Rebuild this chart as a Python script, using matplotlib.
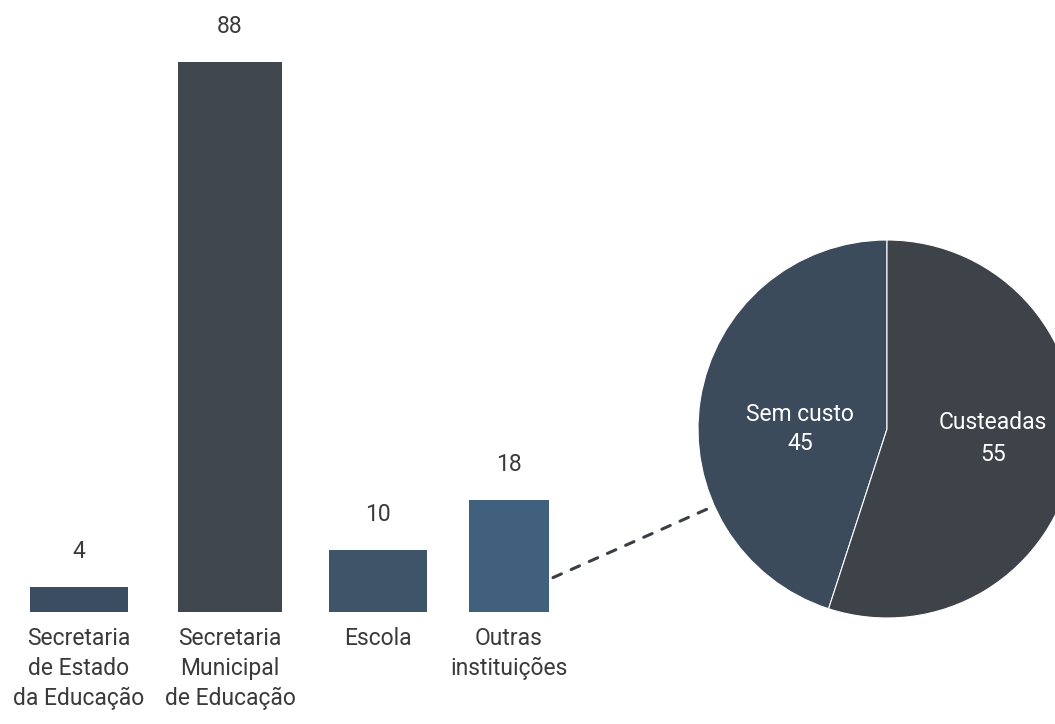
import numpy as np
import matplotlib.pyplot as plt
from matplotlib.patches import ConnectionPatch

# quem oferece as formações (valores em %)
categorias = ["Secretaria\nde Estado\nda Educação",
              "Secretaria\nMunicipal\nde Educação",
              "Escola",
              "Outras\ninstituições"]
valores = [4, 88, 10, 18]

# detalhamento de "Outras instituições"
pizza_rotulos = ["Sem custo", "Custeadas"]
pizza_valores = [45, 55]

cores_barras = ["#3b4e61", "#41474f", "#3d5469", "#41607e"]
cores_pizza = ["#3b4b5c", "#3d4349"]
larguras = [98, 104, 98, 80]
centros = [79, 230, 378, 509]

plt.rcParams['font.family'] = ['Roboto', 'DejaVu Sans']

W, H = 1055, 724
fig = plt.figure(figsize=(W / 100, H / 100), dpi=100)
fig.patch.set_facecolor("white")

# barras: eixo x em pixels, base em y=612 px e 88 no topo (y=62 px)
ax = fig.add_axes([0, (H - 612) / H, 1, 550 / H])
ax.set_xlim(0, W)
ax.set_ylim(0, 88)
ax.axis("off")
barras = ax.bar(centros, valores, width=larguras, color=cores_barras)
for b, v in zip(barras, valores):
    ax.annotate(str(v), (b.get_x() + b.get_width() / 2, v),
                xytext=(0, 17), textcoords="offset points",
                ha="center", va="bottom", fontsize=16.5, color="#3a3a3a")
for x, c in zip(centros, categorias):
    ax.annotate(c, (x, 0), xytext=(0, -11), textcoords="offset points",
                ha="center", va="top", fontsize=16.5, color="#3a3a3a",
                linespacing=1.38)

# pizza de "Outras instituições"
cx, cy, r = 887, 429, 189
axp = fig.add_axes([(cx - r) / W, (H - cy - r) / H, 2 * r / W, 2 * r / H])
axp.pie(pizza_valores, colors=cores_pizza, startangle=90, counterclock=True,
        radius=1, wedgeprops=dict(edgecolor="white", linewidth=0.8))
axp.set_xlim(-1, 1)
axp.set_ylim(-1, 1)
axp.set_aspect("equal")
axp.axis("off")
axp.text(-0.46, 0.0, "Sem custo\n45", ha="center", va="center",
         fontsize=16.5, color="white", linespacing=1.3)
axp.text(0.56, -0.05, "Custeadas\n55", ha="center", va="center",
         fontsize=16.5, color="white", linespacing=1.5)

# ligação tracejada entre a barra e a pizza
b4 = barras[3]
ang = np.deg2rad(204)
con = ConnectionPatch(xyA=(b4.get_x() + b4.get_width() + 4, 5.5), coordsA=ax.transData,
                      xyB=(np.cos(ang), np.sin(ang)), coordsB=axp.transData,
                      color="#3a3f45", linewidth=2.2, linestyle=(0, (3, 3.5)))
fig.add_artist(con)

fig.savefig("out.png", dpi=100)
